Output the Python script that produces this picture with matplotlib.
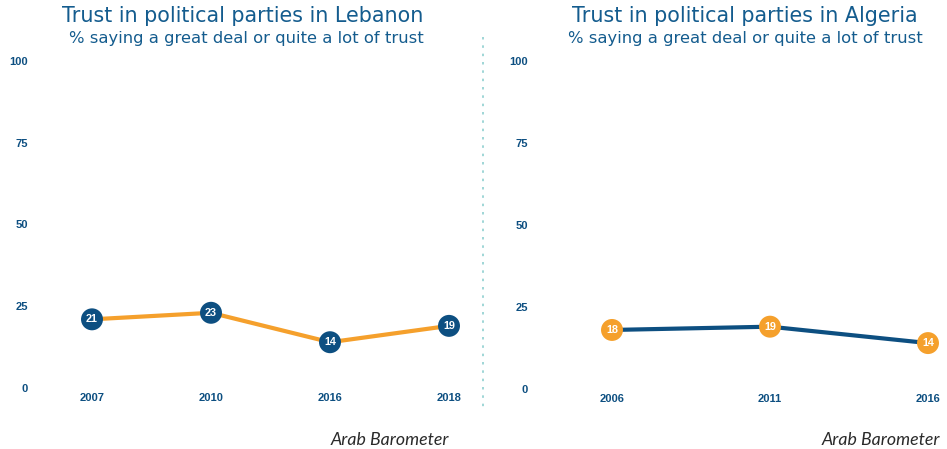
import matplotlib.pyplot as plt
from matplotlib import font_manager

# Arab Barometer: % saying a great deal or quite a lot of trust in political parties
lebanon_years = ["2007", "2010", "2016", "2018"]
lebanon_trust = [21, 23, 14, 19]

algeria_years = ["2006", "2011", "2016"]
algeria_trust = [18, 19, 14]

y_ticks = [0, 25, 50, 75, 100]

NAVY = "#0d4f81"
ORANGE = "#f5a02c"
TITLE_BLUE = "#145c8e"
W, H = 947, 449


def bold_sans(size):
    """Regular-width Liberation Sans Bold (avoid the Narrow variant)."""
    for path in font_manager.findSystemFonts():
        if path.endswith("LiberationSans-Bold.ttf"):
            return font_manager.FontProperties(fname=path, size=size)
    return font_manager.FontProperties(family="DejaVu Sans", weight="bold", size=size)


def px_axes(fig, x0, x1, y_top, y_bottom):
    """Axes placed by pixel edges (top-left origin)."""
    return fig.add_axes([x0 / W, 1 - y_bottom / H, (x1 - x0) / W, (y_bottom - y_top) / H])


def draw_panel(ax, years, values, line_color, dot_color, ylabel_pad):
    x = list(range(len(years)))
    ax.plot(x, values, color=line_color, lw=3, solid_capstyle="round", zorder=2, clip_on=False)
    ax.scatter(x, values, s=250, color=dot_color, edgecolors="none", zorder=3, clip_on=False)
    for xi, v in zip(x, values):
        ax.text(xi, v, str(v), color="white", fontproperties=bold_sans(7.8),
                ha="center", va="center", zorder=4)
    ax.set_xlim(0, len(years) - 1)
    ax.set_ylim(0, 100)
    ax.set_xticks(x)
    ax.set_xticklabels(years)
    ax.set_yticks(y_ticks)
    ax.set_yticklabels([str(t) for t in y_ticks])
    for lbl in ax.get_xticklabels() + ax.get_yticklabels():
        lbl.set_fontproperties(bold_sans(8))
        lbl.set_color(NAVY)
    ax.tick_params(axis="x", length=0, pad=3.5)
    ax.tick_params(axis="y", length=0, pad=ylabel_pad)
    for s in ax.spines.values():
        s.set_visible(False)
    ax.patch.set_alpha(0)


fig = plt.figure(figsize=(W / 100, H / 100), dpi=100)

ax_lb = px_axes(fig, 92, 449, 61, 388)
draw_panel(ax_lb, lebanon_years, lebanon_trust, ORANGE, NAVY, 46)

ax_dz = px_axes(fig, 612, 928, 61, 389)
draw_panel(ax_dz, algeria_years, algeria_trust, NAVY, ORANGE, 60.5)

# titles and subtitles
title_kw = dict(ha="center", va="center", fontsize=14.9, color=TITLE_BLUE, family="DejaVu Sans")
sub_kw = dict(ha="center", va="center", fontsize=11.8, color=TITLE_BLUE, family="DejaVu Sans")
fig.text(243 / W, 1 - 16 / H, "Trust in political parties in Lebanon", **title_kw)
fig.text(246 / W, 1 - 38 / H, "% saying a great deal or quite a lot of trust", **sub_kw)
fig.text(745 / W, 1 - 16 / H, "Trust in political parties in Algeria", **title_kw)
fig.text(745 / W, 1 - 38 / H, "% saying a great deal or quite a lot of trust", **sub_kw)

# source notes
note_kw = dict(ha="right", va="center", fontsize=12.8, style="italic", color="#2a2a2a",
               family="Lato")
fig.text(449 / W, 1 - 440 / H, "Arab Barometer", **note_kw)
fig.text(940 / W, 1 - 440 / H, "Arab Barometer", **note_kw)

# dotted divider between the two panels
fig.add_artist(plt.Line2D([483 / W, 483 / W], [1 - 37 / H, 1 - 410 / H], transform=fig.transFigure,
                          color="#8fcfd0", lw=1.2, linestyle=(0, (1.5, 3.5))))

fig.savefig("out.png", dpi=100)
